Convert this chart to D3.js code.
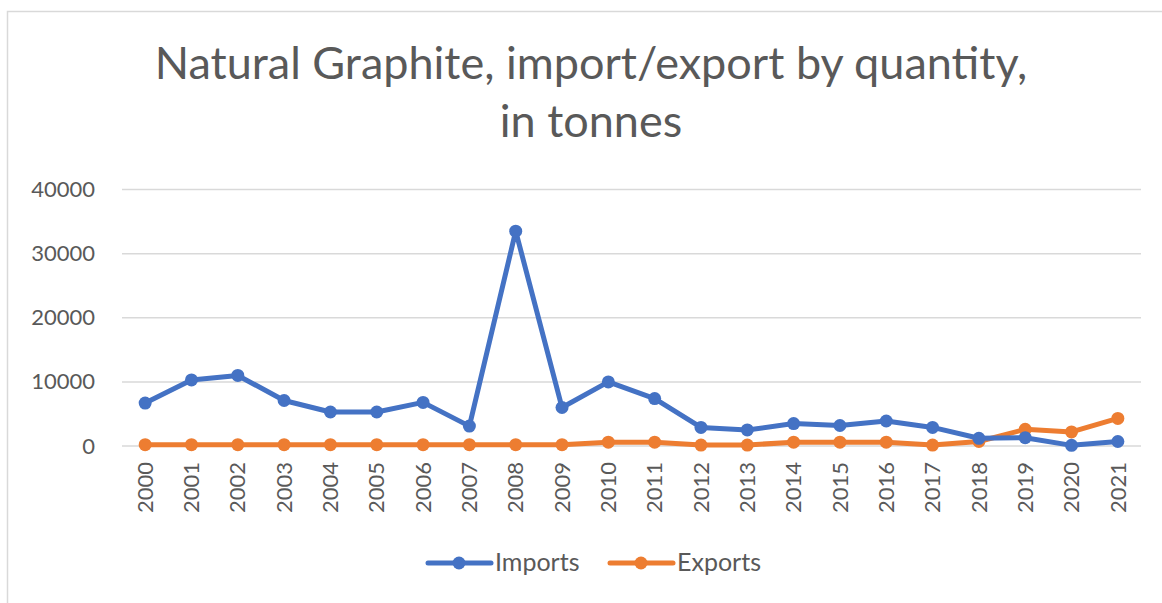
<!DOCTYPE html>
<html><head><meta charset="utf-8">
<script src="https://cdn.jsdelivr.net/npm/d3@7"></script>
<style>html,body{margin:0;padding:0;background:#fff;}svg{display:block;}</style>
</head><body>
<script>
const years = ["2000","2001","2002","2003","2004","2005","2006","2007","2008","2009","2010","2011","2012","2013","2014","2015","2016","2017","2018","2019","2020","2021"];
const imports = [6700,10300,11000,7100,5300,5300,6800,3100,33500,6000,10000,7400,2900,2500,3500,3200,3900,2900,1200,1300,100,700];
const exports = [200,200,200,200,200,200,200,200,200,200,600,600,150,150,600,600,600,150,700,2600,2200,4300];
const yTicks = [0,10000,20000,30000,40000];
const seriesNames = ["Imports","Exports"];
const colors = ["#4472C4","#ED7D31"];

const W = 1162, H = 603;
const svg = d3.select("body").append("svg").attr("width", W).attr("height", H);
const font = "Lato, 'Open Sans', sans-serif";
const txt = "#595959";

svg.append("rect").attr("x",7.5).attr("y",11.5).attr("width",W+20).attr("height",H+20)
  .attr("fill","none").attr("stroke","#d9d9d9").attr("stroke-width",1.5);

const title = svg.append("text").attr("text-anchor","middle").attr("fill",txt)
  .style("font-family",font).style("font-size","45px");
title.append("tspan").attr("x",591).attr("y",79).text("Natural Graphite, import/export by quantity,");
title.append("tspan").attr("x",591).attr("y",137).text("in tonnes");

const x = d3.scaleBand().domain(years).range([122,1141]);
const y = d3.scaleLinear().domain([0,40000]).range([446,189.5]);

const grid = svg.append("g");
grid.selectAll("line").data(yTicks).join("line")
  .attr("x1",122).attr("x2",1141).attr("y1",d=>y(d)).attr("y2",d=>y(d))
  .attr("stroke","#d9d9d9").attr("stroke-width",1.5);

const yAxis = svg.append("g").attr("transform","translate(122,0)")
  .call(d3.axisLeft(y).tickValues(yTicks).tickFormat(d3.format("d")).tickSize(0).tickPadding(27));
yAxis.select(".domain").remove();
yAxis.selectAll("text").attr("fill",txt).style("font-family",font).style("font-size","22px");

const xAxis = svg.append("g").attr("transform","translate(0,446)")
  .call(d3.axisBottom(x).tickSize(0));
xAxis.select(".domain").remove();
xAxis.selectAll("text").attr("fill",txt).style("font-family",font).style("font-size","22px")
  .attr("transform","rotate(-90)").attr("text-anchor","end")
  .attr("x",-16).attr("y",0).attr("dy","0.35em");

const cx = d => x(d) + x.bandwidth()/2;
const data = [imports, exports];
[1,0].forEach(i => {
  const vals = data[i];
  const line = d3.line().x((d,j)=>cx(years[j])).y(d=>y(d));
  svg.append("path").datum(vals).attr("d",line).attr("fill","none")
    .attr("stroke",colors[i]).attr("stroke-width",5).attr("stroke-linejoin","round");
  svg.append("g").selectAll("circle").data(vals).join("circle")
    .attr("cx",(d,j)=>cx(years[j])).attr("cy",d=>y(d)).attr("r",6.5).attr("fill",colors[i]);
});

const legend = svg.append("g");
const legX = [428, 610];
seriesNames.forEach((n,i) => {
  const g = legend.append("g").attr("transform",`translate(${legX[i]},563)`);
  g.append("line").attr("x1",0).attr("x2",63).attr("stroke",colors[i]).attr("stroke-width",5).attr("stroke-linecap","round");
  g.append("circle").attr("cx",31).attr("r",6.5).attr("fill",colors[i]);
  g.append("text").attr("x",67).attr("y",8).attr("fill",txt).style("font-family",font).style("font-size","25px").text(n);
});
</script>
</body></html>
